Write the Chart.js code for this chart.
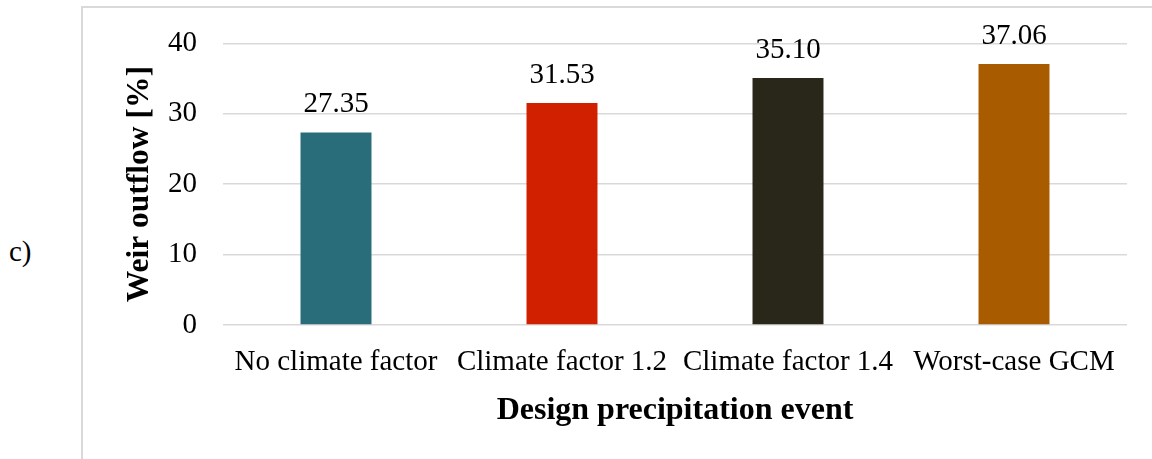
<!DOCTYPE html>
<html>
<head>
<meta charset="utf-8">
<script src="https://cdn.jsdelivr.net/npm/chart.js@4.4.1/dist/chart.umd.min.js"></script>
<style>
  html, body { margin: 0; padding: 0; background: #fff; overflow: hidden; }
  #wrap { position: relative; width: 1152px; height: 459px; }
  #frame { position: absolute; left: 81px; top: 6px; width: 1100px; height: 500px;
           border-left: 2px solid #d9d9d9; border-top: 2px solid #d9d9d9; }
  #panel { position: absolute; left: 9px; top: 235px; font-family: "Liberation Serif", "Times New Roman", serif;
           font-size: 29px; color: #000; }
  canvas { position: absolute; left: 0; top: 0; }
</style>
</head>
<body>
<div id="wrap">
  <div id="frame"></div>
  <div id="panel">c)</div>
  <canvas id="c" width="1152" height="459"></canvas>
</div>
<script>
const categories = ["No climate factor", "Climate factor 1.2", "Climate factor 1.4", "Worst-case GCM"];
const weirOutflow = [27.35, 31.53, 35.10, 37.06];
const barColors = ["#296c7a", "#d12000", "#29261a", "#a95b00"];
const yTicks = [0, 10, 20, 30, 40];
const yTitle = "Weir outflow [%]";
const xTitle = "Design precipitation event";

const FONT = '"Liberation Serif", "Times New Roman", serif';

const valueLabels = {
  id: 'valueLabels',
  afterDatasetsDraw(chart) {
    const ctx = chart.ctx;
    const meta = chart.getDatasetMeta(0);
    ctx.save();
    ctx.font = '29px ' + FONT;
    ctx.fillStyle = '#000';
    ctx.textAlign = 'center';
    ctx.textBaseline = 'alphabetic';
    meta.data.forEach((bar, i) => {
      ctx.fillText(weirOutflow[i].toFixed(2), bar.x, bar.y - 20);
    });
    ctx.restore();
  }
};

new Chart(document.getElementById('c'), {
  type: 'bar',
  data: {
    labels: categories,
    datasets: [{
      data: weirOutflow,
      backgroundColor: barColors,
      borderWidth: 0,
      categoryPercentage: 1,
      barPercentage: 0.314
    }]
  },
  options: {
    responsive: false,
    animation: false,
    devicePixelRatio: 1,
    layout: { padding: { left: 100, right: 25, top: 42, bottom: 0 } },
    plugins: { legend: { display: false }, tooltip: { enabled: false } },
    scales: {
      x: {
        grid: { display: false, drawTicks: false },
        border: { display: false },
        ticks: { color: '#000', font: { family: FONT, size: 29 }, padding: 20, maxRotation: 0, autoSkip: false },
        title: { display: true, text: xTitle, color: '#000',
                 font: { family: FONT, size: 32, weight: 'bold' }, padding: { top: 0, bottom: 29 } },
        afterFit(scale) { scale.height = 134; }
      },
      y: {
        min: 0, max: 40,
        afterBuildTicks(scale) { scale.ticks = yTicks.map(v => ({ value: v })); },
        grid: { color: '#d9d9d9', lineWidth: 1.5, drawTicks: false },
        border: { display: false },
        ticks: { color: '#000', font: { family: FONT, size: 29 }, padding: 26 },
        title: { display: true, text: yTitle, color: '#000',
                 font: { family: FONT, size: 31.5, weight: 'bold' }, padding: { top: 21, bottom: 0 } },
        afterFit(scale) { scale.width = 123; }
      }
    }
  },
  plugins: [valueLabels]
});
</script>
</body>
</html>
